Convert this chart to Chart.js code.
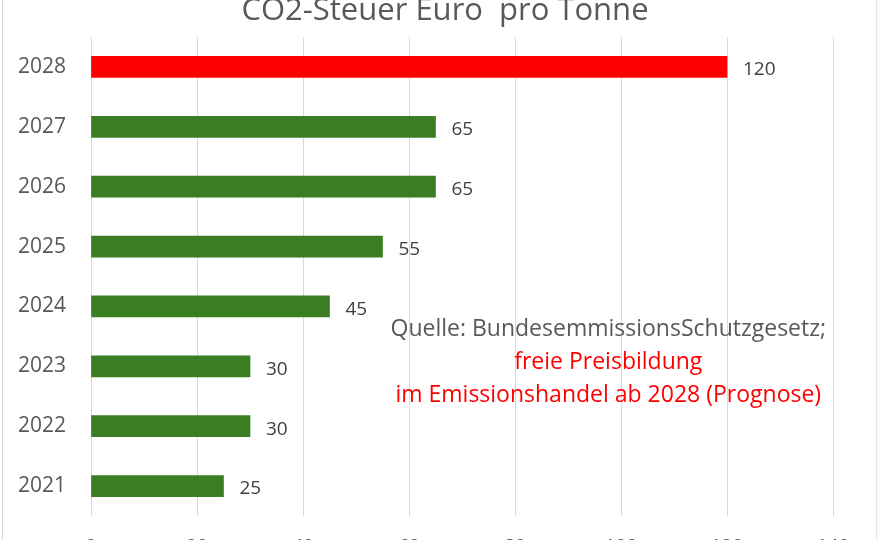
<!DOCTYPE html>
<html>
<head>
<meta charset="utf-8">
<script src="https://cdn.jsdelivr.net/npm/chart.js@4.4.1/dist/chart.umd.min.js"></script>
<style>
  html, body { margin: 0; padding: 0; background: #fff; overflow: hidden; }
  #rahmen { position: relative; width: 880px; height: 540px; overflow: hidden; }
  #rahmen::before { content: ''; position: absolute; left: 2px; top: 0; bottom: 0; border-left: 1px solid #d6d6d6; z-index: 2; }
  #rahmen::after { content: ''; position: absolute; right: 3px; top: 0; bottom: 0; border-left: 1px solid #e4e4e4; z-index: 2; }
  #box { position: absolute; left: 0; top: -8px; width: 880px; height: 580px; }
</style>
</head>
<body>
<div id="rahmen">
  <div id="box"><canvas id="grafico"></canvas></div>
</div>
<script>
// Daten
const jahre = ['2028', '2027', '2026', '2025', '2024', '2023', '2022', '2021'];
const preise = [120, 65, 65, 55, 45, 30, 30, 25];
const farben = ['#ff0000', '#3b7d23', '#3b7d23', '#3b7d23', '#3b7d23', '#3b7d23', '#3b7d23', '#3b7d23'];
const titel = 'CO2-Steuer Euro  pro Tonne';
const hinweisGrau = 'Quelle: BundesemmissionsSchutzgesetz;';
const hinweisRot = ['freie Preisbildung', 'im Emissionshandel ab 2028 (Prognose)'];

const schrift = '"Open Sans", "Noto Sans", sans-serif';

/* --- Werte neben den Balken --- */
const wertePlugin = {
    id: 'werte',
    afterDatasetsDraw(chart) {
        const ctx = chart.ctx;
        const meta = chart.getDatasetMeta(0);
        ctx.save();
        ctx.font = '19px ' + schrift;
        ctx.fillStyle = '#404040';
        ctx.textAlign = 'left';
        ctx.textBaseline = 'middle';
        meta.data.forEach((bar, i) => {
            ctx.fillText(String(preise[i]), bar.x + 16, bar.y + 3);
        });
        ctx.restore();
    }
};

/* --- Quellenhinweis --- */
const hinweisPlugin = {
    id: 'hinweis',
    afterDraw(chart) {
        const ctx = chart.ctx;
        const x = chart.scales.x.getPixelForValue(97.6);
        const y0 = chart.scales.y.getPixelForValue(4.38);
        ctx.save();
        ctx.font = '23px ' + schrift;
        ctx.textAlign = 'center';
        ctx.textBaseline = 'middle';
        ctx.fillStyle = '#595959';
        ctx.fillText(hinweisGrau, x, y0);
        ctx.fillStyle = '#ff0000';
        hinweisRot.forEach((t, i) => ctx.fillText(t, x, y0 + 33 * (i + 1)));
        ctx.restore();
    }
};

new Chart(document.getElementById('grafico'), {
    type: 'bar',
    data: {
        labels: jahre,
        datasets: [{
            data: preise,
            backgroundColor: farben,
            borderWidth: 0,
            barThickness: 21
        }]
    },
    options: {
        indexAxis: 'y',
        responsive: true,
        maintainAspectRatio: false,
        animation: false,
        layout: { padding: { left: 57, right: 47, top: 0, bottom: 0 } },
        plugins: {
            legend: { display: false },
            tooltip: { enabled: false },
            title: {
                display: true,
                text: titel,
                color: '#595959',
                font: { family: schrift, size: 31, weight: 'normal', lineHeight: 1.2 },
                padding: { top: 0.6, bottom: 7.2 }
            }
        },
        scales: {
            x: {
                min: 0,
                max: 140,
                ticks: { stepSize: 20, color: '#595959', padding: 19, font: { family: schrift, size: 19 } },
                grid: { color: '#d9d9d9', drawTicks: false },
                border: { display: false },
                afterFit: (s) => { s.height = 56; }
            },
            y: {
                ticks: { color: '#595959', mirror: true, padding: -73, font: { family: schrift, size: 21 } },
                grid: { display: false },
                border: { display: false },
                afterFit: (s) => { s.width = 34; }
            }
        }
    },
    plugins: [wertePlugin, hinweisPlugin]
});
</script>
</body>
</html>
